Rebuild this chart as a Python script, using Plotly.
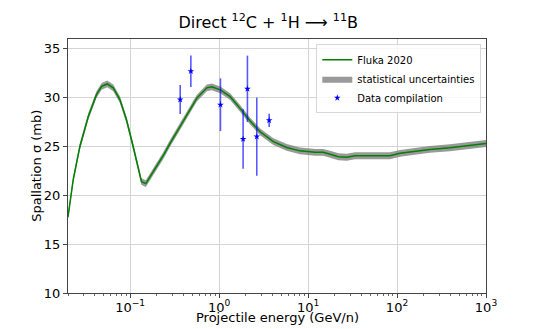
import plotly.graph_objects as go

# Fluka 2020 curve
energy = [0.02, 0.0229, 0.0272, 0.0339, 0.0418, 0.0478, 0.0552, 0.0645, 0.0766,
          0.091, 0.108, 0.123, 0.134, 0.150, 0.189, 0.235, 0.282, 0.397, 0.562,
          0.727, 0.828, 1.03, 1.33, 1.72, 2.23, 2.89, 4.07, 5.75, 8.1, 12.0,
          14.8, 18.5, 21.9, 27.2, 33.7, 54, 83, 108, 152, 234, 393, 694, 1000]
fluka = [17.8, 21.6, 25.0, 28.1, 30.3, 31.15, 31.4, 31.0, 29.8,
         27.7, 25.0, 22.8, 21.4, 21.2, 22.6, 24.05, 25.35, 27.7, 29.95,
         31.0, 31.1, 30.8, 30.1, 28.9, 27.6, 26.5, 25.5, 24.9, 24.55, 24.4,
         24.4, 24.15, 23.95, 23.9, 24.05, 24.05, 24.05, 24.3, 24.5, 24.7, 24.87, 25.15, 25.3]
stat_err = [0.35, 0.35, 0.35, 0.35, 0.35, 0.35, 0.35, 0.35, 0.35,
            0.35, 0.35, 0.35, 0.35, 0.35, 0.35, 0.35, 0.35, 0.35, 0.35,
            0.35, 0.35, 0.35, 0.35, 0.35, 0.35, 0.35, 0.35, 0.35, 0.35, 0.35,
            0.35, 0.35, 0.35, 0.35, 0.35, 0.35, 0.35, 0.35, 0.35, 0.35, 0.35, 0.35, 0.35]

# data compilation
data_energy = [0.365, 0.481, 1.035, 1.86, 2.08, 2.65, 3.65]
data_xs = [29.8, 32.7, 29.27, 25.76, 30.9, 26.0, 27.67]
data_err = [1.48, 1.62, 2.7, 3.05, 3.4, 4.0, 0.68]

x_ticks = [0.1, 1, 10, 100, 1000]
x_ticktext = ["10<sup>−1</sup>", "10<sup>0</sup>", "10<sup>1</sup>",
              "10<sup>2</sup>", "10<sup>3</sup>"]

upper = [v + e for v, e in zip(fluka, stat_err)]
lower = [v - e for v, e in zip(fluka, stat_err)]

fig = go.Figure()

fig.add_trace(go.Scatter(
    x=energy, y=lower, mode="lines", line={"width": 0, "color": "gray"},
    showlegend=False, hoverinfo="skip",
))
fig.add_trace(go.Scatter(
    x=energy, y=upper, mode="lines", line={"width": 0, "color": "gray"},
    fill="tonexty", fillcolor="rgba(128,128,128,0.8)",
    name="statistical uncertainties", legendrank=2,
))
fig.add_trace(go.Scatter(
    x=energy, y=fluka, mode="lines", name="Fluka 2020",
    line={"color": "green", "width": 1.5}, legendrank=1,
))
fig.add_trace(go.Scatter(
    x=data_energy, y=data_xs, mode="markers", name="Data compilation",
    marker={"symbol": "star", "size": 5, "color": "blue"},
    error_y={"type": "data", "array": data_err, "color": "rgba(0,0,255,0.65)",
             "thickness": 1.6, "width": 0},
    legendrank=3,
))

minor_vals = [m * 10 ** k for k in range(-2, 3) for m in range(2, 10)]

# the page body adds an 8px offset, margins are compensated for it
fig.update_layout(
    width=540, height=329,
    margin={"l": 60, "r": 62, "t": 31, "b": 44},
    paper_bgcolor="white", plot_bgcolor="white",
    font={"family": "DejaVu Sans", "size": 13, "color": "black"},
    title={
        "text": "Direct <sup>12</sup>C + <sup>1</sup>H ⟶ <sup>11</sup>B",
        "font": {"size": 16},
        "x": 0.482, "xanchor": "center", "y": 0.957, "yanchor": "middle",
    },
    legend={
        "x": 0.594, "y": 0.979, "xanchor": "left", "yanchor": "top",
        "bgcolor": "rgba(255,255,255,0.8)", "bordercolor": "#d8d8d8",
        "borderwidth": 1, "font": {"size": 10}, "tracegroupgap": 0,
        "traceorder": "normal", "itemwidth": 30,
    },
    xaxis={
        "type": "log", "range": [-1.699, 3], "automargin": False,
        "tickvals": x_ticks, "ticktext": x_ticktext,
        "ticks": "outside", "ticklen": 4, "tickcolor": "#444",
        "ticklabelstandoff": -2,
        "showgrid": True, "gridcolor": "#d4d4d4", "gridwidth": 1,
        "showline": True, "linecolor": "#444", "linewidth": 1, "mirror": True,
        "minor": {"tickvals": minor_vals, "ticks": "outside", "ticklen": 2,
                  "tickcolor": "#666", "showgrid": False},
        "zeroline": False,
    },
    yaxis={
        "range": [10, 36], "tickvals": [10, 15, 20, 25, 30, 35], "automargin": False,
        "ticks": "outside", "ticklen": 4, "tickcolor": "#444",
        "showgrid": True, "gridcolor": "#d4d4d4", "gridwidth": 1,
        "showline": True, "linecolor": "#444", "linewidth": 1, "mirror": True,
        "zeroline": False,
    },
    annotations=[
        dict(text="Projectile energy (GeV/n)", xref="paper", yref="paper",
             x=0.5, y=-0.058, xanchor="center", yanchor="top",
             showarrow=False, font={"size": 13}),
        dict(text="Spallation σ (mb)", xref="paper", yref="paper",
             x=-0.077, y=0.5, xanchor="center", yanchor="middle",
             textangle=-90, showarrow=False, font={"size": 13}),
    ],
)

fig.write_html("out.html")
